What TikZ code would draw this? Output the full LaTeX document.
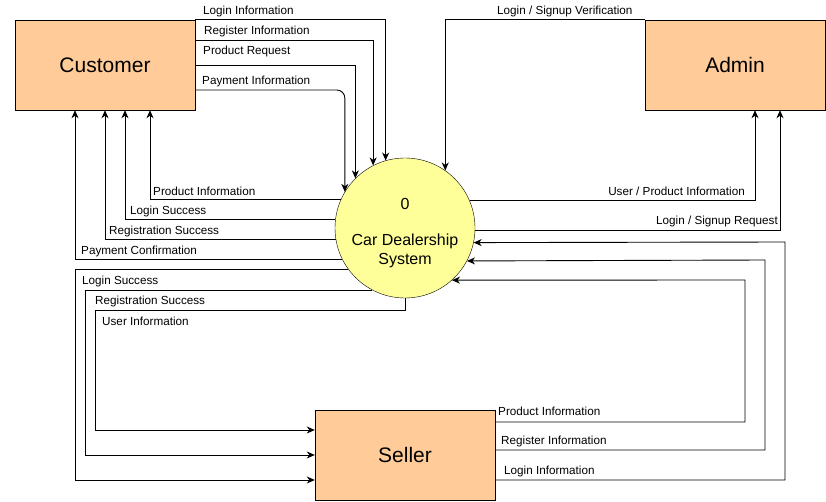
\documentclass[tikz,border=0pt]{standalone}
\usepackage{fontspec}
\setmainfont{Liberation Sans}
\usetikzlibrary{arrows.meta}
\definecolor{entityfill}{RGB}{255,204,153}
\definecolor{procfill}{RGB}{255,255,153}
\begin{document}
\begin{tikzpicture}[x=1pt, y=-1pt, font=\fontsize{11.7}{13}\selectfont,
	entity/.style={draw, fill=entityfill, minimum width=180pt, minimum height=90pt, font=\fontsize{21}{25}\selectfont},
	process/.style={circle, draw, fill=procfill, minimum size=140pt, inner sep=0pt, align=center, font=\fontsize{16}{19}\selectfont},
	flow/.style={-{Stealth[length=8pt,width=7pt,inset=2.5pt]}, line width=0.9pt},
	lbl/.style={anchor=west, inner sep=0pt, yshift=-1.5pt}]
				\useasboundingbox (0,0) rectangle (826,502);
				\node[entity] (cust) at (105,65) {Customer};
				\node[entity] (admin) at (735,65) {Admin};
				\node[entity] (seller) at (405,455) {Seller};
				\node[process] (sys) at (405,228) {\rule{0pt}{22pt}0\\[17pt]Car Dealership\\System};

				\draw[flow] (cust.north east) -| (sys.106.6);
				\draw[flow] (cust.east |- 0,40) -| (sys.117.2);
				\draw[flow] (cust.east) -| (sys.135.6);
				\draw[flow, rounded corners=8pt] (cust.east |- 0,90) -| (sys.149);
				\draw[flow] (sys.156.4) -| (150,0 |- cust.south);
				\draw[flow] (sys.173.4) -| (125,0 |- cust.south);
				\draw[flow] (sys.189.9) -| (cust.south);
				\draw[flow] (sys.207.2) -| (75,0 |- cust.south);

				\draw[flow] (sys.216.9) -| (75,480) -- (seller.west |- 0,480);
				\draw[flow] (sys.242.4) -| (85,455) -- (seller.west);
				\draw[flow] (sys.south) -- (405,310) -| (95,430) -- (seller.west |- 0,430);

				\draw[flow] (seller.east |- 0,422) -| (745,280) -- (sys.312);
				\draw[flow] (seller.east |- 0,450) -| (765,260) -- (sys.332.8);
				\draw[flow] (seller.east |- 0,480) -| (785,242) -- (sys.348.5);

				\draw[flow] (sys.23.6) -| (755,0 |- admin.south);
				\draw[flow] (sys.358.4) -| (780,0 |- admin.south);
				\draw[flow] (admin.north west) -| (sys.55.2);

				\node[lbl] (tCustLogin) at (203,10) {Login Information};
				\node[lbl] (tCustReg) at (204,30) {Register Information};
				\node[lbl] (tCustReq) at (203,50) {Product Request};
				\node[lbl] (tCustPay) at (202,80) {Payment Information};
				\node[lbl] (tProdInfo) at (153,190) {Product Information};
				\node[lbl] (tLoginOk) at (130,210) {Login Success};
				\node[lbl] (tRegOk) at (109,230) {Registration Success};
				\node[lbl] (tPayOk) at (81,250) {Payment Confirmation};
				\node[lbl] (tSelLoginOk) at (82,280) {Login Success};
				\node[lbl] (tSelRegOk) at (95,300) {Registration Success};
				\node[lbl] (tUserInfo) at (102,320) {User Information};
				\node[lbl] (tSelProd) at (498,410) {Product Information};
				\node[lbl] (tSelReg) at (501,440) {Register Information};
				\node[lbl] (tSelLogin) at (504,470) {Login Information};
				\node[lbl, anchor=east] (tAdmProd) at (745,190) {User / Product Information};
				\node[lbl, anchor=east] (tAdmReq) at (778,220) {Login / Signup Request};
				\node[lbl] (tAdmVer) at (497,10) {Login / Signup Verification};
			\end{tikzpicture}
\end{document}
